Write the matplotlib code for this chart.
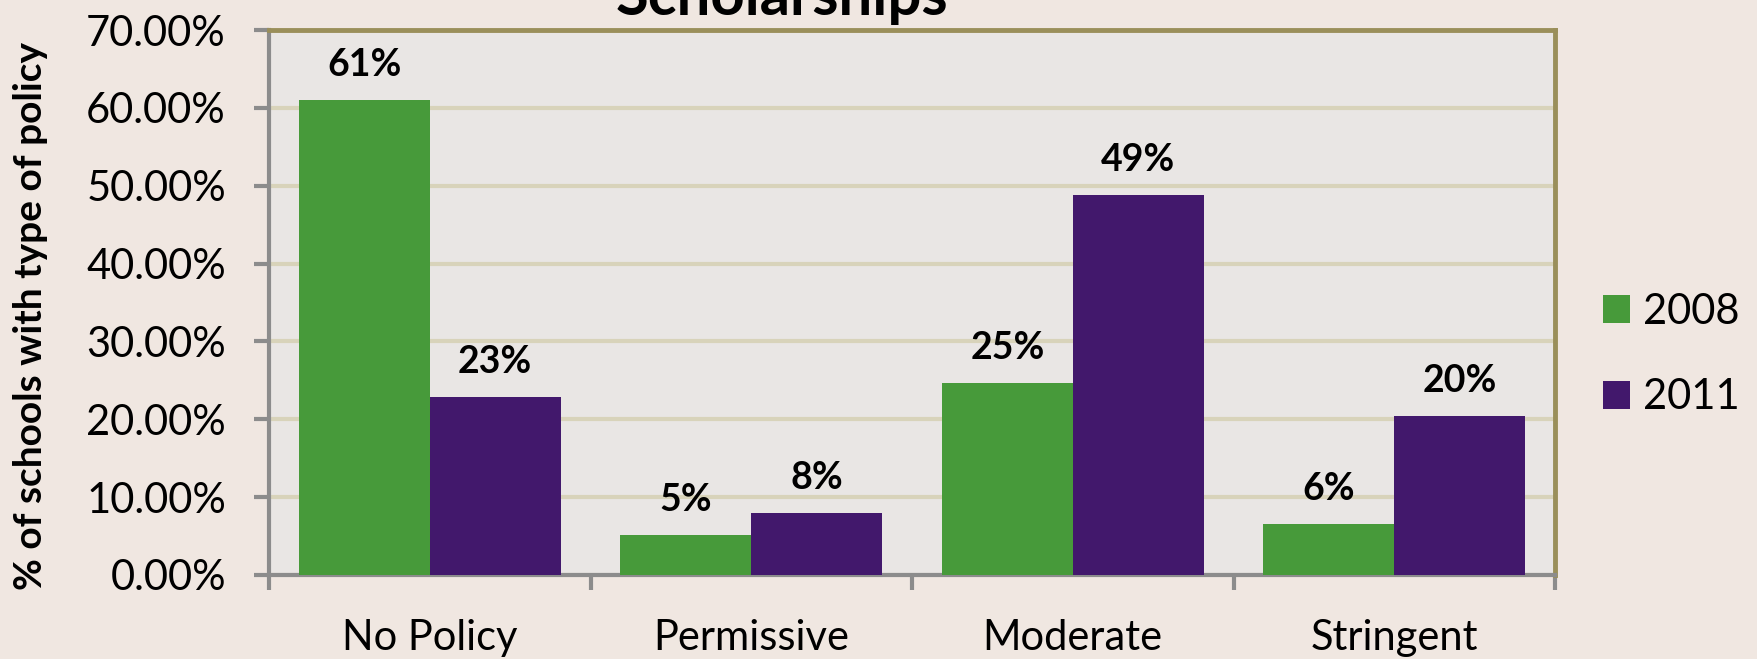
import matplotlib
matplotlib.use("Agg")
import matplotlib.pyplot as plt
import numpy as np

categories = ["No Policy", "Permissive", "Moderate", "Stringent"]
series_names = ["2008", "2011"]
values_2008 = [0.610, 0.052, 0.246, 0.065]
values_2011 = [0.228, 0.079, 0.488, 0.204]
labels_2008 = ["61%", "5%", "25%", "6%"]
labels_2011 = ["23%", "8%", "49%", "20%"]
yticks = [0.0, 0.1, 0.2, 0.3, 0.4, 0.5, 0.6, 0.7]
title = "Scholarships"
ylabel = "% of schools with type of policy"

plt.rcParams['font.family'] = ['Lato', 'DejaVu Sans']

W, H = 1758, 659
fig = plt.figure(figsize=(W / 100, H / 100), dpi=100)
fig.patch.set_facecolor("#F0E7E1")

ax = fig.add_axes([269 / W, (H - 575) / H, (1555 - 269) / W, (575 - 30) / H])
ax.set_facecolor("#E9E6E4")

green = "#479A3A"
purple = "#42186C"
x = np.arange(len(categories))
bw = 0.407
b1 = ax.bar(x - bw / 2, values_2008, bw, color=green, label=series_names[0], zorder=3)
b2 = ax.bar(x + bw / 2, values_2011, bw, color=purple, label=series_names[1], zorder=3)

for bars, labs in ((b1, labels_2008), (b2, labels_2011)):
    for r, lab in zip(bars, labs):
        ax.annotate(lab, (r.get_x() + r.get_width() / 2, r.get_height()),
                    xytext=(0, 18), textcoords="offset pixels", ha="center", va="bottom",
                    fontsize=27, fontweight="bold", color="black")

ax.set_xlim(-0.5, len(categories) - 0.5)
ax.set_ylim(0, 0.7)
ax.set_yticks(yticks)
ax.set_yticklabels([f"{v*100:.2f}%" for v in yticks], fontsize=30)
ax.yaxis.grid(True, color="#D8D3BA", linewidth=3, zorder=0)
ax.set_axisbelow(True)

ax.set_xticks(x)
ax.set_xticklabels(categories, fontsize=30)
ax.tick_params(axis="x", length=0, pad=32)
ax.set_xticks(np.arange(len(categories) + 1) - 0.5, minor=True)
ax.tick_params(axis="x", which="minor", length=11, width=3, color="#8C8C8C")
ax.tick_params(axis="y", length=11, width=3, color="#8C8C8C", pad=20)

for s in ("left", "bottom"):
    ax.spines[s].set_color("#8C8C8C")
    ax.spines[s].set_linewidth(3)
for s in ("top", "right"):
    ax.spines[s].set_color("#9A8F5A")
    ax.spines[s].set_linewidth(3.5)

fig.text(31 / W, 1 - 316 / H, ylabel, rotation=90, ha="center", va="center",
         fontsize=28, fontweight="bold")
fig.text(782 / W, 1 - 15 / H, title, ha="center", va="baseline",
         fontsize=43, fontweight="bold")

leg = fig.legend(handles=[b1, b2], labels=series_names, loc="upper left",
                 bbox_to_anchor=(1603 / W, 1 - 293 / H), frameon=False, fontsize=30,
                 borderpad=0, borderaxespad=0,
                 handlelength=0.65, handleheight=0.65, handletextpad=0.31, labelspacing=1.14)

fig.savefig("out.png", dpi=100, facecolor=fig.get_facecolor())
